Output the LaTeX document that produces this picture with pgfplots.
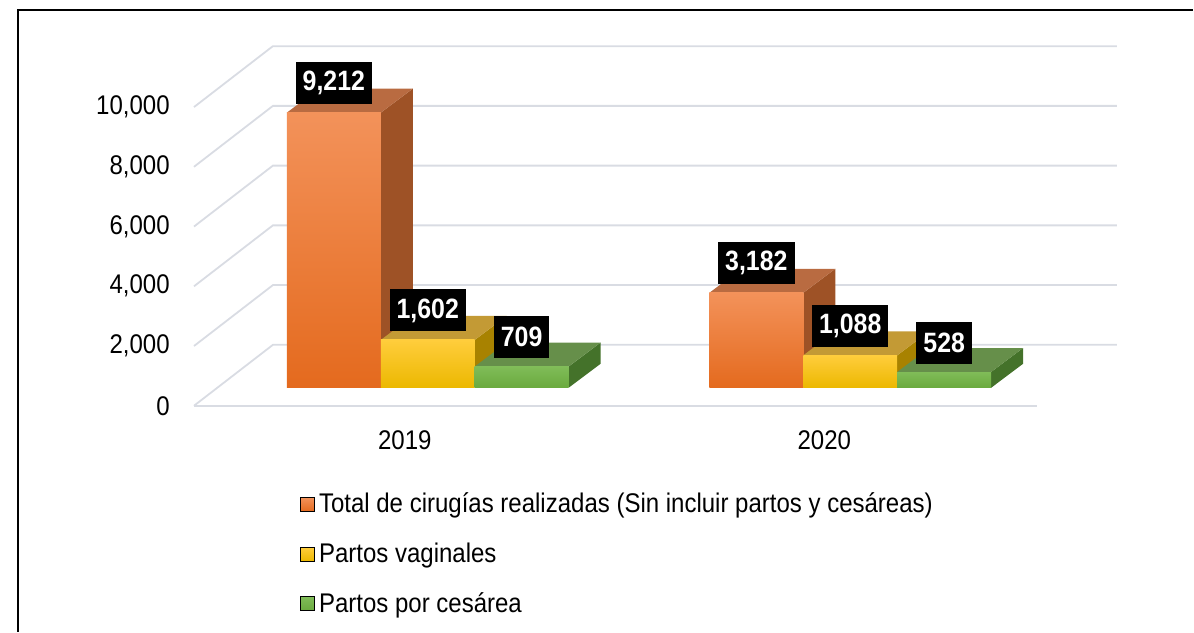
\documentclass[border=0pt]{standalone}
\usepackage{fontspec}
\setmainfont{Liberation Sans}[FakeStretch=0.89]
\usepackage{pgfplots}
\pgfplotsset{compat=1.18}

\definecolor{gridc}{RGB}{217,220,227}
\definecolor{orT}{RGB}{243,146,90}
\definecolor{orM}{RGB}{245,127,45}
\definecolor{orB}{RGB}{228,106,30}
\definecolor{orTop}{RGB}{185,107,65}
\definecolor{orSide}{RGB}{158,82,38}
\definecolor{yeT}{RGB}{255,205,60}
\definecolor{yeM}{RGB}{255,200,10}
\definecolor{yeB}{RGB}{236,184,0}
\definecolor{yeTop}{RGB}{195,154,53}
\definecolor{yeSide}{RGB}{168,130,0}
\definecolor{grT}{RGB}{128,188,88}
\definecolor{grM}{RGB}{118,182,74}
\definecolor{grB}{RGB}{106,170,62}
\definecolor{grTop}{RGB}{102,143,74}
\definecolor{grSide}{RGB}{68,114,42}

% #1 left x (px), #2 value, #3 prefix of colour names
\newcommand\cuboid[3]{%
  \pgfmathsetmacro\xa{#1}\pgfmathsetmacro\xb{#1+94}%
  \pgfmathsetmacro\xc{#1+32}\pgfmathsetmacro\xd{#1+94+32}%
  \pgfmathsetmacro\ya{602}\pgfmathsetmacro\yb{602+#2}%
  \pgfmathsetmacro\yc{602+803}\pgfmathsetmacro\yd{602+#2+803}%
  \addplot[forget plot, draw=none, fill=#3Side] coordinates {(\xb,\ya) (\xd,\yc) (\xd,\yd) (\xb,\yb)} -- cycle;
  \addplot[forget plot, draw=none, fill=#3Top] coordinates {(\xa,\yb) (\xb,\yb) (\xd,\yd) (\xc,\yd)} -- cycle;
  \addplot[forget plot, draw=none, top color=#3T, middle color=#3M, bottom color=#3B] coordinates {(\xa,\ya) (\xb,\ya) (\xb,\yb) (\xa,\yb)} -- cycle;
}

\begin{document}
\begin{tikzpicture}
\begin{axis}[
  x=0.5pt, y=0.01495pt,
  xmin=0, xmax=1194, ymin=-7558.5, ymax=13578.6,
  clip=false,
  axis line style={draw=none},
  major tick length=0pt,
  scaled y ticks=false,
  ytick={0,2000,4000,6000,8000,10000},
  xtick={405,825}, xticklabels={2019,2020},
  /pgf/number format/assume math mode=true,
  yticklabel style={anchor=east, inner sep=0pt, xshift=85pt, font=\fontsize{13.5}{16}\selectfont},
  xticklabel style={anchor=center, inner sep=0pt, yshift=96pt, font=\fontsize{13.5}{16}\selectfont},
  legend style={draw=none, fill=none, at={(axis cs:300,-2776)}, anchor=north west,
    inner sep=0pt, row sep=9.5pt, font=\fontsize{13.5}{16}\selectfont,
    /tikz/every even column/.append style={column sep=2pt}},
  legend cell align=left,
  legend image code/.code={\path[#1] (0pt,-3.5pt) rectangle (7pt,3.5pt);},
  gl/.style={forget plot, color=gridc, line width=0.9pt, mark=none},
]
% grid
\addplot[gl] coordinates {(194,0) (1038,0)};
\addplot[gl] coordinates {(194,0) (273,2040) (1118,2040)};
\addplot[gl] coordinates {(194,2000) (273,4040) (1118,4040)};
\addplot[gl] coordinates {(194,4000) (273,6040) (1118,6040)};
\addplot[gl] coordinates {(194,6000) (273,8040) (1118,8040)};
\addplot[gl] coordinates {(194,8000) (273,10040) (1118,10040)};
\addplot[gl] coordinates {(194,10000) (273,12040) (1118,12040)};

% bars 2019
\cuboid{287}{9212}{or}
\cuboid{381}{1602}{ye}
\cuboid{475}{709}{gr}
% bars 2020
\cuboid{710}{3182}{or}
\cuboid{804}{1088}{ye}
\cuboid{898}{528}{gr}

% value labels
\addplot[forget plot, draw=none, mark=none, point meta=y, nodes near coords,
  nodes near coords style={anchor=center, fill=black, text=white,
    font=\fontsize{14}{16}\selectfont\bfseries, inner xsep=3.5pt, inner ysep=0pt,
    minimum height=21pt, yshift=23.75pt}]
  coordinates {(334,9212) (428,1602) (522,709) (757,3182) (851,1088) (945,528)};

\addlegendimage{top color=orT, middle color=orM, bottom color=orB}
\addlegendentry{Total de cirugías realizadas (Sin incluir partos y cesáreas)}
\addlegendimage{top color=yeT, middle color=yeM, bottom color=yeB}
\addlegendentry{Partos vaginales}
\addlegendimage{top color=grT, middle color=grM, bottom color=grB}
\addlegendentry{Partos por cesárea}

\draw[line width=1.1pt] (axis cs:1194,13244) -- (axis cs:18,13244) -- (axis cs:18,-7558.5);
\end{axis}
\end{tikzpicture}
\end{document}
